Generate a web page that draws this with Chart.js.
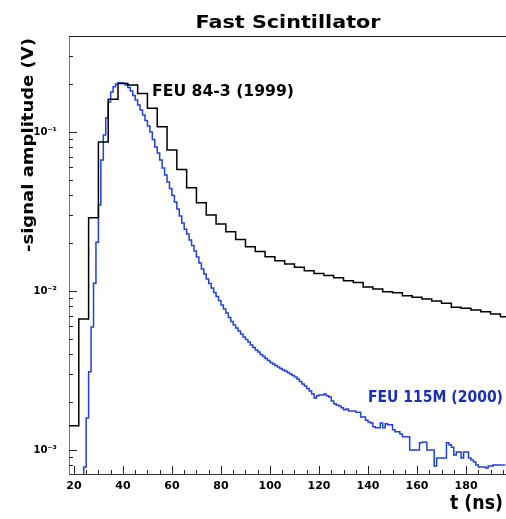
<!DOCTYPE html>
<html>
<head>
<meta charset="utf-8">
<script src="https://cdn.jsdelivr.net/npm/chart.js@4.4.1/dist/chart.umd.min.js"></script>
<style>
  html, body { margin: 0; padding: 0; background: #fff; }
  canvas { display: block; }
</style>
</head>
<body>
<canvas id="scintChart" width="506" height="519"></canvas>
<script>
// FEU 84-3 (1999) - 4 ns bins starting at 18 ns
const oldStart = 18;
const oldWidth = 4;
const oldAmp = [
  0.00142, 0.00667, 0.0289, 0.0865, 0.161, 0.202, 0.198, 0.175, 0.141, 0.108,
  0.077, 0.0582, 0.0447, 0.0359, 0.0301, 0.0264, 0.0236, 0.0211, 0.0190, 0.0177,
  0.0164, 0.0155, 0.0148, 0.0141, 0.0134, 0.0129, 0.0125, 0.0121, 0.0116, 0.0113,
  0.0106, 0.0103, 0.0099, 0.00976, 0.00934, 0.00912, 0.00891, 0.00865, 0.00837, 0.00789,
  0.00778, 0.00759, 0.00741, 0.00716, 0.00689
];

// FEU 115M (2000) - 1 ns bins starting at 23 ns
const newStart = 23;
const newWidth = 1;
const newAmp = [
  0.0005, 0.00078, 0.00159, 0.00310, 0.00594, 0.0112, 0.0203,
  0.0347, 0.0667, 0.0958, 0.1225, 0.1545, 0.1786, 0.193, 0.2004, 0.2042, 0.2042,
  0.2018, 0.1977, 0.1906, 0.1811, 0.1697, 0.1588, 0.1479, 0.1374, 0.1279, 0.1181,
  0.1091, 0.100, 0.0897, 0.0805, 0.0738, 0.0667, 0.0594, 0.0537, 0.0485, 0.0441,
  0.0399, 0.0363, 0.0328, 0.0296, 0.0268, 0.0245, 0.0228, 0.0209, 0.0193, 0.01785,
  0.01636, 0.0150, 0.01375, 0.0128, 0.0119, 0.01115, 0.01044, 0.00979, 0.00923, 0.00871,
  0.00816, 0.00770, 0.00727, 0.00681, 0.00643, 0.00611, 0.00585, 0.00560, 0.00537, 0.00514,
  0.00495, 0.00478, 0.00457, 0.00441, 0.00425, 0.00413, 0.00399, 0.00387, 0.00376, 0.00365,
  0.00355, 0.00347, 0.00340, 0.00333, 0.00326, 0.00319, 0.00314, 0.00307, 0.00301, 0.00294,
  0.00288, 0.00280, 0.00270, 0.00260, 0.00253, 0.00244, 0.00235, 0.00225, 0.00212, 0.00219,
  0.00222, 0.00222, 0.00225, 0.00219, 0.00215, 0.00203, 0.00195, 0.00192, 0.00189, 0.00184,
  0.00179, 0.00181, 0.00176, 0.00176, 0.00176, 0.00173, 0.00173, 0.00161, 0.00161, 0.00154,
  0.00150, 0.00148, 0.00140, 0.00138, 0.00138, 0.00148, 0.00138, 0.00146, 0.00144, 0.00144,
  0.00134, 0.00130, 0.00130, 0.00126, 0.00121, 0.00121, 0.00121, 0.00100, 0.00100, 0.00100,
  0.00100, 0.00111, 0.00112, 0.00112, 0.00100, 0.00100, 0.00100, 0.000793, 0.000891, 0.000891,
  0.000891, 0.000891, 0.00111, 0.00108, 0.00104, 0.000930, 0.000971, 0.000971, 0.000891, 0.000971,
  0.000971, 0.000891, 0.000865, 0.000840, 0.000805, 0.000782, 0.000782, 0.000782, 0.000770, 0.000793,
  0.000793, 0.000805, 0.000805, 0.000805, 0.000805, 0.000805
];

const xTicks = [20, 40, 60, 80, 100, 120, 140, 160, 180];
const yTicks = [0.001, 0.01, 0.1];
const yTickText = { '0.001': '10⁻³', '0.01': '10⁻²', '0.1': '10⁻¹' };

// histogram -> step points (left edges + closing edge)
const toSteps = (start, width, vals) => {
  const pts = vals.map((v, i) => ({ x: start + i * width, y: v }));
  pts.push({ x: start + vals.length * width, y: vals[vals.length - 1] });
  return pts;
};

const FONT = '"DejaVu Sans", "Liberation Sans", sans-serif';

// draw bold text stretched to a given width
const fitText = (ctx, text, x, y, size, width, align, color) => {
  ctx.font = 'bold ' + size + 'px ' + FONT;
  const w = ctx.measureText(text).width;
  ctx.save();
  ctx.translate(x, y);
  ctx.scale(width / w, 1);
  ctx.textAlign = align;
  ctx.textBaseline = 'alphabetic';
  ctx.fillStyle = color;
  ctx.fillText(text, 0, 0);
  ctx.restore();
};

const decorations = {
  id: 'decorations',
  afterDatasetsDraw(chart) {
    const { ctx, chartArea: a, scales: { x, y } } = chart;
    ctx.save();
    ctx.strokeStyle = '#222';
    ctx.lineWidth = 1;
    ctx.beginPath();
    ctx.moveTo(a.left, a.top + 0.5);
    ctx.lineTo(a.right, a.top + 0.5);
    for (let t = 20; t <= x.max; t += 5) {
      const px = Math.round(x.getPixelForValue(t)) + 0.5;
      const len = t % 20 === 0 ? 8 : 4;
      ctx.moveTo(px, a.bottom);
      ctx.lineTo(px, a.bottom - len);
    }
    for (let d = -4; d <= 0; d++) {
      for (let m = 1; m <= 9; m++) {
        const v = m * Math.pow(10, d);
        if (v < y.min || v > y.max) continue;
        const py = Math.round(y.getPixelForValue(v)) + 0.5;
        const len = m === 1 ? 8 : 4;
        ctx.moveTo(a.left, py);
        ctx.lineTo(a.left + len, py);
      }
    }
    ctx.stroke();
    ctx.restore();

    fitText(ctx, 'Fast Scintillator', 288, 28, 18, 185, 'center', '#000');
    fitText(ctx, 'FEU 84-3 (1999)', 152, 96, 16, 142, 'left', '#000');
    fitText(ctx, 'FEU 115M (2000)', 368, 402, 16, 135, 'left', '#1a2fb8');
    fitText(ctx, 't (ns)', 503, 509, 19, 53, 'right', '#000');

    ctx.save();
    ctx.translate(33, 145);
    ctx.rotate(-Math.PI / 2);
    fitText(ctx, '-signal amplitude (V)', 0, 0, 16, 214, 'center', '#000');
    ctx.restore();
  }
};

new Chart(document.getElementById('scintChart').getContext('2d'), {
  type: 'line',
  data: {
    datasets: [
      {
        label: 'FEU 84-3 (1999)',
        data: toSteps(oldStart, oldWidth, oldAmp),
        borderColor: '#000',
        borderWidth: 1.5,
        stepped: 'before',
        pointRadius: 0,
        fill: false
      },
      {
        label: 'FEU 115M (2000)',
        data: toSteps(newStart, newWidth, newAmp),
        borderColor: '#1f3fe0',
        borderWidth: 1.5,
        stepped: 'before',
        pointRadius: 0,
        fill: false
      }
    ]
  },
  options: {
    responsive: false,
    animation: false,
    layout: { padding: { top: 36, right: 0, left: 0, bottom: 0 } },
    plugins: { legend: { display: false }, title: { display: false }, tooltip: { enabled: false } },
    scales: {
      x: {
        type: 'linear',
        min: 18,
        max: 196.3,
        afterBuildTicks: s => { s.ticks = xTicks.map(v => ({ value: v })); },
        afterFit: s => { s.height = 45; },
        grid: { drawOnChartArea: false, drawTicks: false },
        border: { display: true, color: '#333', width: 1 },
        ticks: {
          padding: 6,
          color: '#000',
          maxRotation: 0,
          font: { family: FONT, weight: 'bold', size: 11 }
        }
      },
      y: {
        type: 'logarithmic',
        min: 0.000706,
        max: 0.402,
        afterBuildTicks: s => { s.ticks = yTicks.map(v => ({ value: v })); },
        afterFit: s => { s.width = 69; },
        grid: { drawOnChartArea: false, drawTicks: false },
        border: { display: true, color: '#777', width: 1 },
        ticks: {
          padding: 12,
          color: '#000',
          font: { family: FONT, weight: 'bold', size: 10 },
          callback: v => yTickText[String(v)] || ''
        }
      }
    }
  },
  plugins: [decorations]
});
</script>
</body>
</html>
